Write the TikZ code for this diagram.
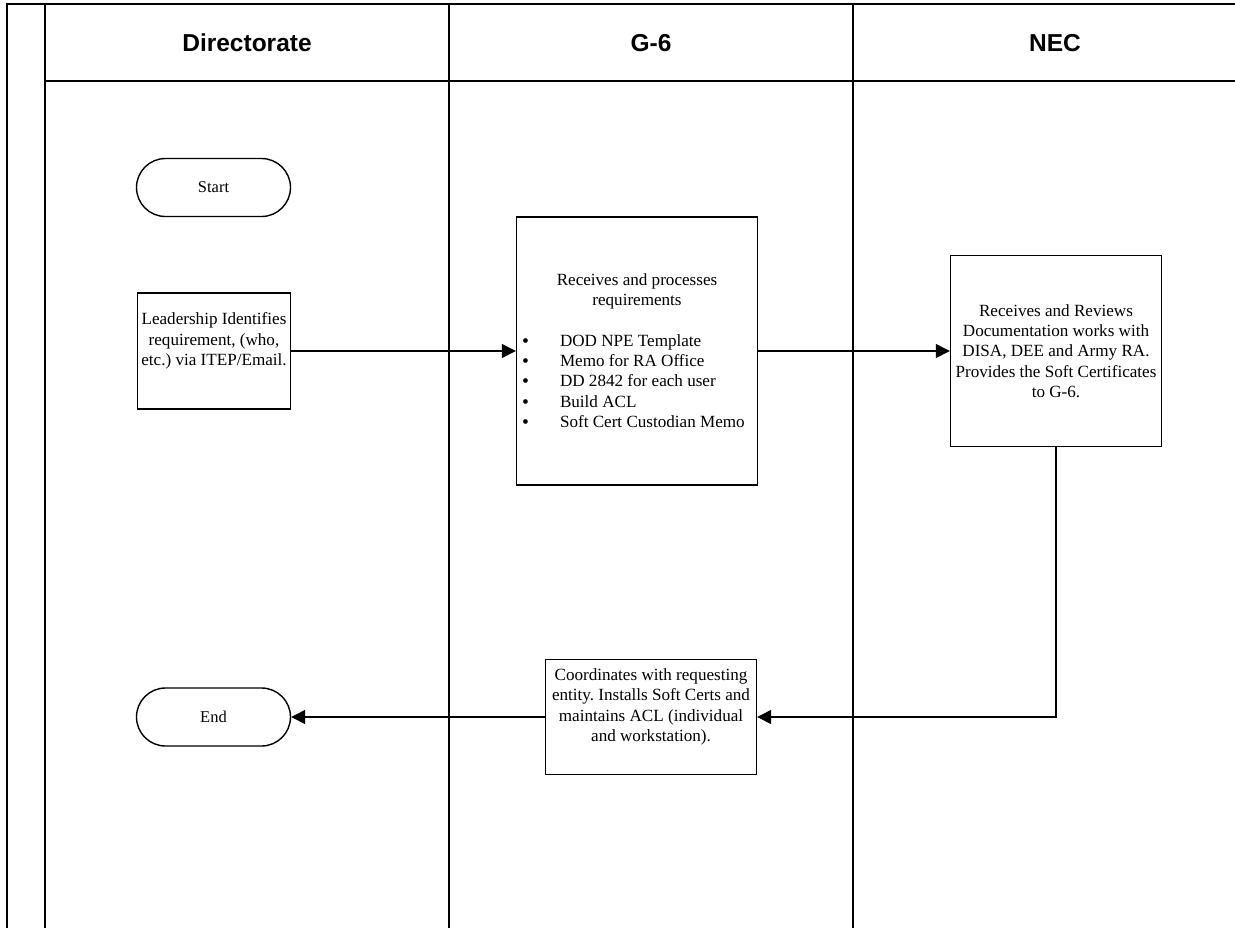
\documentclass[tikz,border=0pt]{standalone}
\usepackage{fontspec}
\setmainfont{Liberation Serif}
\newfontfamily\lanefont{Liberation Sans}
\usetikzlibrary{arrows.meta}
\frenchspacing

\newcommand{\listdot}{\makebox[38bp][l]{\raisebox{-0.05em}{\scalebox{1.15}{\textbullet}}}}

\tikzset{
  frame/.style={line width=1.8bp, draw=black},
  lanehead/.style={font=\lanefont\bfseries\fontsize{24.5bp}{28bp}\selectfont, anchor=center},
  procbox/.style={draw=black, line width=1.4bp, fill=white, rectangle, inner sep=0pt},
  terminal/.style={draw=black, line width=1.4bp, fill=white, rectangle,
    rounded corners=29bp, minimum width=154bp, minimum height=58bp,
    font=\fontsize{16.5bp}{19bp}\selectfont},
  bodytext/.style={align=center, font=\fontsize{17.1bp}{20.3bp}\selectfont, inner sep=0pt},
  flow/.style={line width=1.4bp, -{Triangle[length=14bp,width=14bp]}}
}

\begin{document}
\begin{tikzpicture}[x=1bp, y=-1bp]
  \useasboundingbox (0,0) rectangle (1235,928);
  \clip (0,0) rectangle (1235,928);

  % swimlane frame
  \draw[frame] (7,1000) -- (7,4) -- (1300,4);
  \draw[frame] (45,4) -- (45,1000);
  \draw[frame] (45,81) -- (1300,81);
  \draw[frame] (449,4) -- (449,1000);
  \draw[frame] (853,4) -- (853,1000);

  % lane titles
  \node[lanehead] (hdir) at (247,43) {Directorate};
  \node[lanehead] (hg6) at (651,43) {G-6};
  \node[lanehead] (hnec) at (1055,43) {NEC};

  % terminals
  \node[terminal] (start) at (213.5,187.5) {Start};
  \node[terminal] (end) at (213.5,717) {End};

  % process steps
  \node[procbox, minimum width=153bp, minimum height=116bp] (lead) at (214,351) {};
  \node[bodytext] (leadtxt) at (214,341) {Leadership Identifies\\requirement, (who,\\etc.) via ITEP/Email.};

  \node[procbox, minimum width=241bp, minimum height=268bp] (g6) at (637,351) {};
  \node[inner sep=0pt, font=\fontsize{17.1bp}{20.3bp}\selectfont] (g6txt) at (637,351) {%
    \begin{minipage}{230bp}
      \centering Receives and processes\\requirements\par
      \vspace{20.3bp}
      \raggedright
      \listdot DOD NPE Template\\
      \listdot Memo for RA Office\\
      \listdot DD 2842 for each user\\
      \listdot Build ACL\\
      \listdot Soft Cert Custodian Memo
    \end{minipage}};

  \node[procbox, minimum width=211bp, minimum height=191bp, bodytext] (nec) at (1056,351)
    {Receives and Reviews\\Documentation works with\\DISA, DEE and Army RA.\\Provides the Soft Certificates\\to G-6.};

  \node[procbox, minimum width=211bp, minimum height=115bp] (low) at (651,717) {};
  \node[bodytext] (lowtxt) at (651,707) {Coordinates with requesting\\entity. Installs Soft Certs and\\maintains ACL (individual\\and workstation).};

  % connectors
  \draw[flow] (lead.east) -- (g6.west);
  \draw[flow] (g6.east) -- (nec.west);
  \draw[flow] (nec.south) |- (low.east);
  \draw[flow] (low.west) -- (end.east);
\end{tikzpicture}
\end{document}
